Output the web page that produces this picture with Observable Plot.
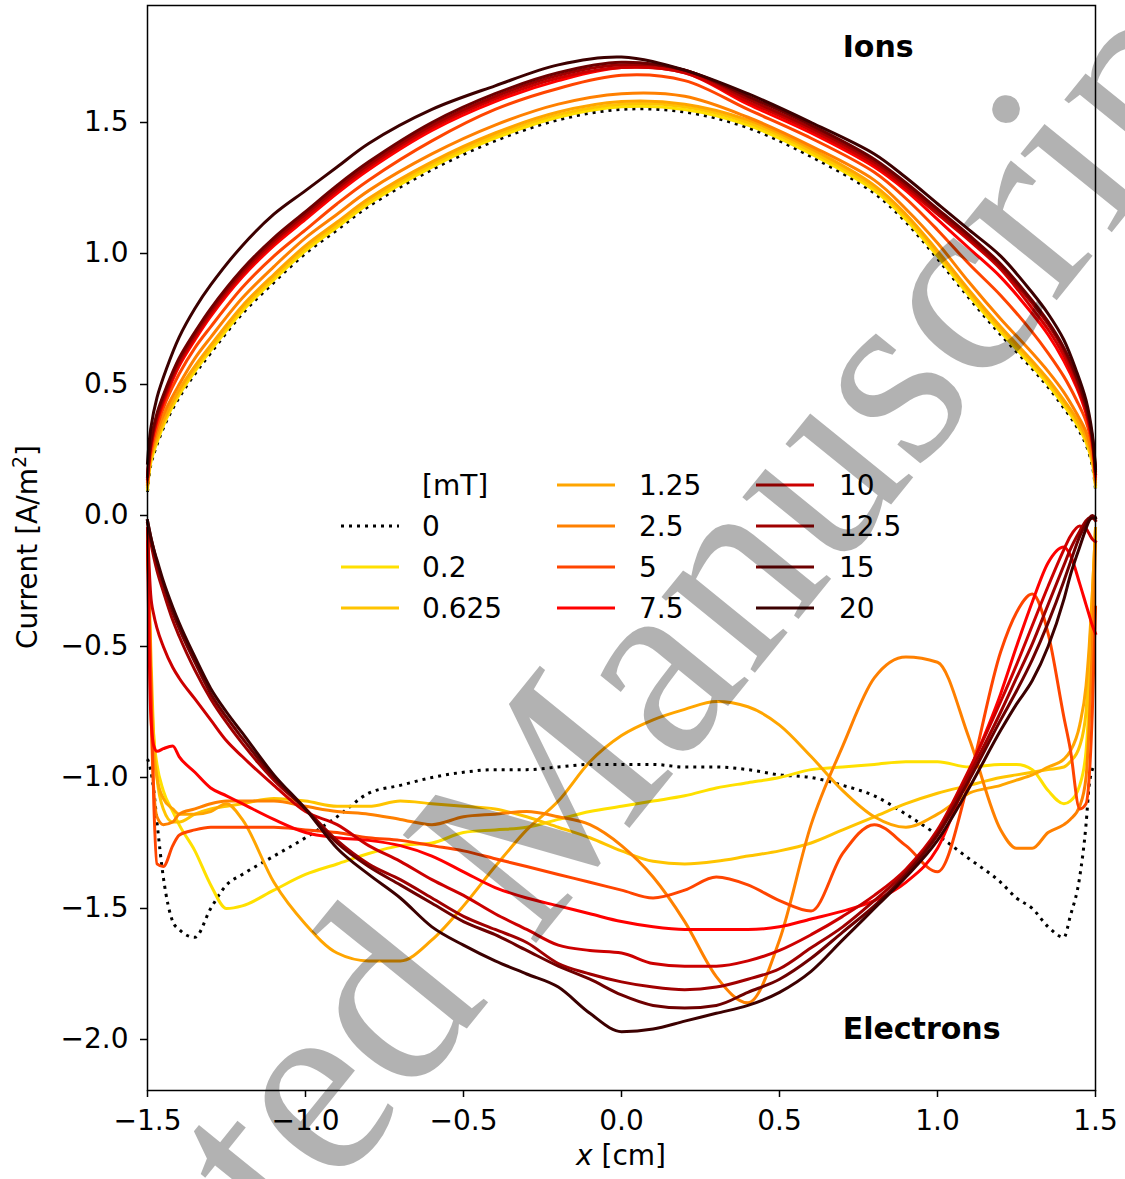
<!DOCTYPE html>
<html><head><meta charset="utf-8">
<script src="https://cdn.jsdelivr.net/npm/d3@7"></script>
<script src="https://cdn.jsdelivr.net/npm/@observablehq/plot@0.6"></script>
<style>
body{margin:0;background:#fff;}
#chart{position:relative;width:1125px;height:1179px;}
</style></head><body><div id="chart"></div>
<script>
// ---- data ----
const fields = ["0","0.2","0.625","1.25","2.5","5","7.5","10","12.5","15","20"];
const colors = ["#000000","#ffe000","#ffc400","#ffa500","#ff8000","#ff4500","#ff0000","#cc0000","#a00000","#6e0000","#3c0000"];
const legendTitle = "[mT]";
const xTicks = [-1.5,-1.0,-0.5,0,0.5,1.0,1.5];
const yTicks = [-2.0,-1.5,-1.0,-0.5,0,0.5,1.0,1.5];
const annotText = ["Ions","Electrons"];
const annotX = [0.7,0.7];
const annotY = [1.75,-2.0];
const watermark = "Accepted Manuscript";

// ion current, sampled at ionX
const ionX = [-1.5,-1.49,-1.47,-1.44,-1.4,-1.35,-1.3,-1.2,-1.1,-1.0,-0.9,-0.8,-0.6,-0.4,-0.2,0,0.2,0.4,0.6,0.8,0.9,1.0,1.1,1.2,1.3,1.35,1.4,1.44,1.47,1.49,1.5];
const ion_0    = [0.09,0.19,0.27,0.36,0.45,0.54,0.62,0.77,0.89,1.00,1.09,1.18,1.32,1.43,1.51,1.55,1.54,1.48,1.37,1.23,1.12,0.98,0.83,0.69,0.56,0.49,0.41,0.34,0.27,0.19,0.10];
const ion_02   = [0.10,0.20,0.28,0.37,0.46,0.55,0.63,0.78,0.90,1.01,1.10,1.19,1.33,1.44,1.52,1.56,1.55,1.49,1.38,1.24,1.13,0.99,0.84,0.70,0.57,0.50,0.42,0.35,0.28,0.20,0.11];
const ion_0625 = [0.11,0.21,0.29,0.38,0.47,0.56,0.64,0.79,0.91,1.02,1.11,1.20,1.34,1.45,1.53,1.57,1.56,1.50,1.39,1.25,1.14,1.00,0.85,0.71,0.58,0.51,0.43,0.36,0.29,0.21,0.12];
const ion_125  = [0.12,0.22,0.30,0.39,0.48,0.57,0.65,0.80,0.92,1.03,1.12,1.21,1.35,1.46,1.54,1.58,1.57,1.51,1.40,1.26,1.15,1.01,0.86,0.72,0.59,0.52,0.44,0.37,0.30,0.22,0.12];
const ion_25   = [0.12,0.23,0.32,0.41,0.50,0.60,0.68,0.83,0.95,1.06,1.15,1.24,1.38,1.49,1.57,1.61,1.60,1.52,1.41,1.28,1.17,1.04,0.89,0.75,0.62,0.55,0.47,0.39,0.32,0.23,0.13];
const ion_5    = [0.13,0.24,0.34,0.44,0.54,0.64,0.72,0.87,0.99,1.09,1.19,1.28,1.43,1.55,1.63,1.68,1.66,1.55,1.44,1.31,1.21,1.09,0.96,0.84,0.70,0.62,0.53,0.44,0.36,0.26,0.14];
const ion_75   = [0.14,0.26,0.36,0.46,0.57,0.67,0.76,0.91,1.03,1.13,1.23,1.32,1.47,1.58,1.66,1.71,1.69,1.57,1.46,1.33,1.24,1.13,1.02,0.91,0.77,0.69,0.59,0.49,0.39,0.28,0.15];
const ion_10   = [0.14,0.26,0.37,0.47,0.58,0.68,0.77,0.92,1.04,1.14,1.24,1.33,1.48,1.59,1.67,1.71,1.69,1.58,1.47,1.34,1.25,1.15,1.05,0.94,0.79,0.71,0.61,0.50,0.40,0.28,0.16];
const ion_125b = [0.15,0.27,0.38,0.48,0.59,0.69,0.78,0.93,1.05,1.15,1.25,1.34,1.49,1.60,1.68,1.72,1.70,1.59,1.48,1.35,1.26,1.16,1.06,0.95,0.81,0.73,0.63,0.52,0.41,0.29,0.16];
const ion_15   = [0.15,0.28,0.39,0.49,0.60,0.70,0.79,0.94,1.06,1.16,1.26,1.35,1.50,1.61,1.69,1.73,1.70,1.60,1.49,1.36,1.27,1.17,1.07,0.96,0.82,0.74,0.64,0.53,0.42,0.30,0.17];
const ion_20   = [0.20,0.33,0.45,0.56,0.68,0.79,0.88,1.03,1.15,1.24,1.33,1.42,1.55,1.64,1.72,1.75,1.70,1.61,1.50,1.38,1.29,1.19,1.09,0.99,0.85,0.77,0.67,0.55,0.44,0.31,0.18];

// electron current, sampled at elecX
const elecX = [-1.5,-1.49,-1.48,-1.47,-1.45,-1.42,-1.4,-1.35,-1.3,-1.25,-1.2,
  -1.1,-1.0,-0.9,-0.8,-0.7,-0.6,-0.5,-0.4,-0.3,-0.2,-0.1,0,0.1,0.2,0.3,0.4,0.5,0.6,0.7,0.8,0.9,1.0,1.1,
  1.2,1.25,1.3,1.35,1.4,1.42,1.45,1.47,1.48,1.49,1.5];
const el_0 = [-0.93,-0.97,-1.05,-1.17,-1.38,-1.55,-1.58,-1.61,-1.50,-1.41,-1.37,
  -1.30,-1.23,-1.15,-1.06,-1.03,-1.00,-0.98,-0.97,-0.97,-0.96,-0.95,-0.95,-0.95,-0.96,-0.96,-0.97,-0.99,-1.00,-1.03,-1.07,-1.14,-1.22,-1.31,
  -1.40,-1.46,-1.50,-1.57,-1.61,-1.53,-1.38,-1.18,-1.03,-0.97,-0.95];
const el_02 = [-0.05,-0.60,-0.85,-0.95,-1.05,-1.13,-1.18,-1.28,-1.41,-1.50,-1.49,
  -1.43,-1.37,-1.33,-1.29,-1.26,-1.25,-1.21,-1.20,-1.19,-1.16,-1.13,-1.11,-1.09,-1.07,-1.04,-1.02,-1.00,-0.97,-0.96,-0.95,-0.94,-0.94,-0.96,
  -0.95,-0.95,-0.97,-1.05,-1.10,-1.09,-1.03,-0.90,-0.70,-0.40,-0.05];
const el_0625 = [-0.05,-0.50,-0.85,-1.00,-1.12,-1.17,-1.17,-1.14,-1.12,-1.11,-1.10,
  -1.08,-1.09,-1.11,-1.11,-1.09,-1.10,-1.11,-1.12,-1.15,-1.19,-1.23,-1.28,-1.32,-1.33,-1.32,-1.30,-1.28,-1.25,-1.20,-1.15,-1.10,-1.06,-1.03,
  -1.00,-0.99,-0.98,-0.97,-0.96,-0.94,-0.88,-0.75,-0.55,-0.30,-0.05];
const el_125 = [-0.05,-0.60,-0.90,-1.00,-1.08,-1.12,-1.14,-1.14,-1.13,-1.10,-1.16,
  -1.40,-1.56,-1.67,-1.70,-1.70,-1.62,-1.49,-1.34,-1.20,-1.09,-0.94,-0.84,-0.78,-0.74,-0.71,-0.73,-0.80,-0.92,-1.05,-1.15,-1.19,-1.14,-1.06,
  -1.03,-1.01,-0.99,-0.96,-0.93,-0.90,-0.80,-0.65,-0.50,-0.30,-0.05];
const el_25 = [-0.05,-0.70,-1.05,-1.15,-1.18,-1.17,-1.14,-1.12,-1.10,-1.09,-1.09,
  -1.09,-1.11,-1.13,-1.14,-1.16,-1.18,-1.15,-1.14,-1.13,-1.15,-1.18,-1.26,-1.38,-1.55,-1.76,-1.86,-1.62,-1.18,-0.88,-0.62,-0.54,-0.56,-0.85,
  -1.20,-1.27,-1.27,-1.21,-1.18,-1.16,-1.11,-1.00,-0.80,-0.50,-0.10];
const el_5 = [-0.05,-0.60,-1.10,-1.33,-1.34,-1.26,-1.22,-1.20,-1.19,-1.19,-1.19,
  -1.19,-1.20,-1.21,-1.23,-1.24,-1.26,-1.28,-1.31,-1.34,-1.37,-1.40,-1.43,-1.46,-1.43,-1.38,-1.41,-1.47,-1.51,-1.29,-1.18,-1.26,-1.36,-1.01,
  -0.52,-0.37,-0.30,-0.45,-0.77,-0.89,-1.12,-1.10,-1.00,-0.75,-0.35];
const el_75 = [-0.10,-0.75,-0.88,-0.90,-0.89,-0.88,-0.92,-0.98,-1.04,-1.07,-1.10,
  -1.16,-1.21,-1.23,-1.24,-1.26,-1.30,-1.36,-1.42,-1.46,-1.49,-1.52,-1.55,-1.57,-1.58,-1.58,-1.58,-1.57,-1.54,-1.51,-1.47,-1.40,-1.27,-0.98,
  -0.68,-0.50,-0.33,-0.18,-0.12,-0.15,-0.26,-0.34,-0.38,-0.42,-0.45];
const el_10 = [-0.05,-0.30,-0.38,-0.43,-0.50,-0.58,-0.62,-0.70,-0.78,-0.86,-0.92,
  -1.03,-1.13,-1.18,-1.26,-1.32,-1.39,-1.45,-1.52,-1.58,-1.64,-1.66,-1.67,-1.71,-1.72,-1.72,-1.70,-1.66,-1.60,-1.53,-1.45,-1.35,-1.20,-0.97,
  -0.71,-0.57,-0.42,-0.27,-0.13,-0.08,-0.04,-0.05,-0.07,-0.09,-0.10];
const el_125b = [-0.03,-0.10,-0.16,-0.21,-0.29,-0.40,-0.46,-0.59,-0.70,-0.79,-0.87,
  -1.01,-1.12,-1.24,-1.33,-1.39,-1.46,-1.53,-1.58,-1.63,-1.71,-1.75,-1.78,-1.80,-1.81,-1.80,-1.77,-1.73,-1.65,-1.57,-1.47,-1.36,-1.21,-0.99,
  -0.75,-0.62,-0.49,-0.34,-0.19,-0.13,-0.06,-0.02,-0.01,-0.01,-0.02];
const el_15 = [-0.02,-0.08,-0.13,-0.18,-0.26,-0.37,-0.43,-0.56,-0.68,-0.77,-0.85,
  -1.00,-1.12,-1.25,-1.34,-1.41,-1.48,-1.55,-1.60,-1.66,-1.72,-1.77,-1.83,-1.87,-1.88,-1.87,-1.82,-1.77,-1.69,-1.59,-1.49,-1.37,-1.22,-1.01,
  -0.78,-0.67,-0.55,-0.41,-0.25,-0.18,-0.08,-0.03,-0.01,0.00,-0.01];
const el_20 = [-0.02,-0.08,-0.13,-0.17,-0.25,-0.35,-0.41,-0.54,-0.66,-0.75,-0.83,
  -0.99,-1.12,-1.27,-1.37,-1.46,-1.57,-1.64,-1.70,-1.75,-1.80,-1.90,-1.97,-1.96,-1.93,-1.90,-1.87,-1.82,-1.74,-1.62,-1.50,-1.38,-1.24,-1.04,
  -0.82,-0.72,-0.63,-0.50,-0.32,-0.23,-0.12,-0.05,-0.02,-0.01,-0.01];

const ionSeries = [ion_0,ion_02,ion_0625,ion_125,ion_25,ion_5,ion_75,ion_10,ion_125b,ion_15,ion_20];
const elecSeries = [el_0,el_02,el_0625,el_125,el_25,el_5,el_75,el_10,el_125b,el_15,el_20];

// ---- build table ----
const rows = [];
fields.forEach((f, i) => {
  ionX.forEach((x, j) => rows.push({field: f, part: "ion", x, y: ionSeries[i][j]}));
  elecX.forEach((x, j) => rows.push({field: f, part: "elec", x, y: elecSeries[i][j]}));
});

const fmt = d => (d < 0 ? "\u2212" : "") + Math.abs(d).toFixed(1);
const FONT = "DejaVu Sans";
const LW = 3;

const lineMarks = [];
fields.forEach((f, i) => {
  for (const part of ["ion", "elec"]) {
    lineMarks.push(Plot.line(rows.filter(r => r.field === f && r.part === part), {
      x: "x", y: "y", stroke: "field", strokeWidth: LW,
      curve: part === "ion" ? "catmull-rom" : "monotone-x",
      strokeDasharray: i === 0 ? "3,5" : null, strokeLinecap: i === 0 ? "butt" : "square", strokeLinejoin: "round"
    }));
  }
});

const annots = annotText.map((t, i) => ({t, x: annotX[i], y: annotY[i]}));

const svg = Plot.plot({
  width: 1125, height: 1179,
  marginLeft: 147, marginRight: 30, marginTop: 5, marginBottom: 89,
  style: {fontFamily: FONT, fontSize: "28px", color: "black", background: "white"},
  x: {domain: [-1.5, 1.5]},
  y: {domain: [-2.1947, 1.9466]},
  color: {domain: fields, range: colors},
  marks: [
    ...lineMarks,
    Plot.text(annots, {x: "x", y: "y", text: "t", textAnchor: "start", lineAnchor: "bottom", fontWeight: "bold", fontSize: 30, fill: "black", fontFamily: FONT}),
    Plot.frame({stroke: "black", strokeWidth: 1.5}),
    Plot.axisX({ticks: xTicks, tickFormat: fmt, tickSize: 7, tickPadding: 13, label: null, fontSize: 28, strokeWidth: 1.5}),
    Plot.axisY({ticks: yTicks, tickFormat: fmt, tickSize: 7, tickPadding: 12, label: null, fontSize: 28, strokeWidth: 1.5})
  ]
});
document.getElementById("chart").appendChild(svg);

// ---- axis labels, legend, watermark ----
const S = d3.select(svg);
// y label
const yl = S.append("text").attr("transform", "translate(37,547) rotate(-90)")
  .attr("text-anchor", "middle").attr("font-family", FONT).attr("font-size", 28).attr("fill", "black");
yl.append("tspan").text("Current [A/m");
yl.append("tspan").attr("font-size", 19).attr("dy", -11).text("2");
yl.append("tspan").attr("dy", 11).text("]");
// x label
const xl = S.append("text").attr("x", 621).attr("y", 1165).attr("text-anchor", "middle")
  .attr("font-family", FONT).attr("font-size", 28).attr("fill", "black");
xl.append("tspan").attr("font-style", "italic").text("x");
xl.append("tspan").text(" [cm]");

// legend (3 columns x 4 rows, first cell is the title)
const legendItems = [{label: legendTitle, idx: -1}, ...fields.map((f, i) => ({label: f, idx: i}))];
const colLineX = [341, 557, 756], colTextX = [422, 639, 839], rowY = [485, 526, 567, 608];
const lg = S.append("g");
legendItems.forEach((it, k) => {
  const c = Math.floor(k / 4), r = k % 4;
  const y = rowY[r];
  if (it.idx >= 0) {
    lg.append("line").attr("x1", colLineX[c]).attr("x2", colLineX[c] + 58).attr("y1", y).attr("y2", y)
      .attr("stroke", colors[it.idx]).attr("stroke-width", LW)
      .attr("stroke-dasharray", it.idx === 0 ? "3,5" : null);
  }
  lg.append("text").attr("x", colTextX[c]).attr("y", y + 10).attr("text-anchor", "start")
    .attr("font-family", FONT).attr("font-size", 28).attr("fill", "black").text(it.label);
});

// watermark
S.append("text").attr("transform", "translate(575,895) rotate(-51)")
  .attr("text-anchor", "middle").attr("font-family", "Liberation Serif").attr("font-size", 262)
  .attr("fill", "black").attr("fill-opacity", 0.3).attr("pointer-events", "none").text(watermark);
</script></body></html>
